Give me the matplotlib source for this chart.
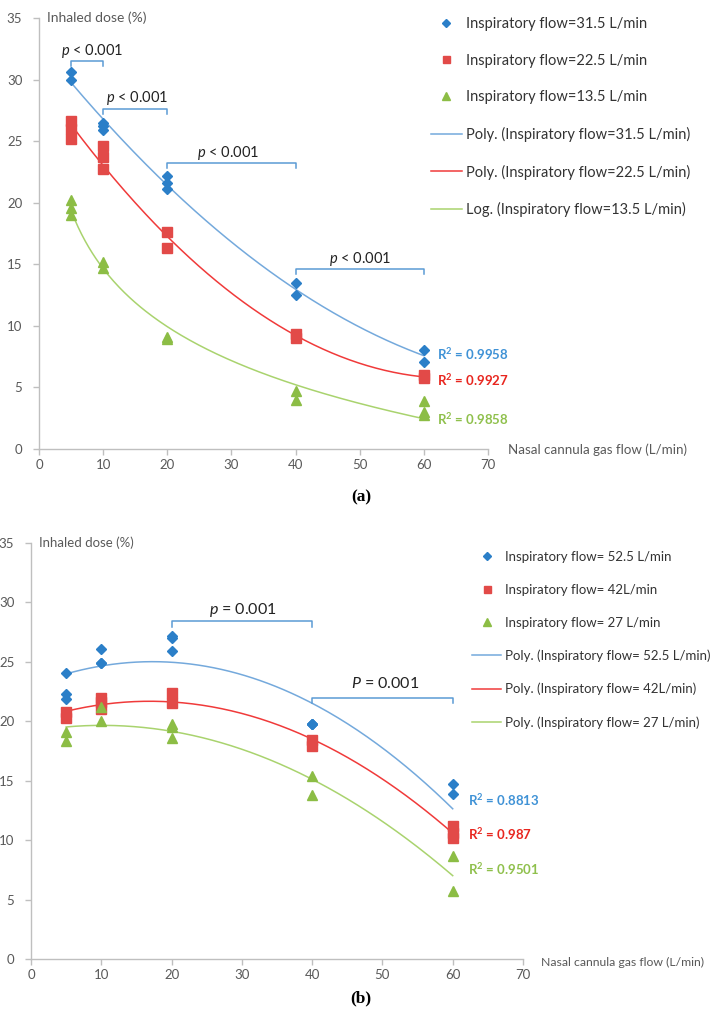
import numpy as np
import matplotlib
matplotlib.use("Agg")
import matplotlib.pyplot as plt

plt.rcParams['font.family'] = ['Lato', 'DejaVu Sans']
plt.rcParams['mathtext.fontset'] = 'custom'
plt.rcParams['mathtext.rm'] = 'Lato'
plt.rcParams['mathtext.it'] = 'Lato:italic'
plt.rcParams['mathtext.bf'] = 'Lato:bold'

# ---- panel (a) data ----
a_blue_x = [5, 5, 10, 10, 10, 20, 20, 20, 40, 40, 60, 60]
a_blue_y = [30.6, 30.0, 26.5, 26.2, 25.9, 22.2, 21.6, 21.1, 13.5, 12.5, 8.0, 7.1]
a_red_x = [5, 5, 5, 10, 10, 10, 20, 20, 40, 40, 60, 60]
a_red_y = [26.6, 26.0, 25.2, 24.6, 23.7, 22.7, 17.6, 16.3, 9.3, 9.0, 6.0, 5.8]
a_green_x = [5, 5, 5, 10, 10, 20, 20, 40, 40, 60, 60, 60]
a_green_y = [20.2, 19.6, 19.0, 15.2, 14.7, 9.1, 8.9, 4.7, 4.0, 3.9, 3.0, 2.8]
a_labels = ['Inspiratory flow=31.5 L/min', 'Inspiratory flow=22.5 L/min', 'Inspiratory flow=13.5 L/min']
a_fit_labels = ['Poly. (Inspiratory flow=31.5 L/min)', 'Poly. (Inspiratory flow=22.5 L/min)',
                'Log. (Inspiratory flow=13.5 L/min)']
a_r2 = ['0.9958', '0.9927', '0.9858']
a_brackets = [(5, 10, 31.5), (10, 20, 27.6), (20, 40, 23.2), (40, 60, 14.6)]
a_bracket_text = ['$p$ < 0.001'] * 4

# ---- panel (b) data ----
# n = 3 per flow; overlapping / hidden repeats included
b_blue_x = [5, 5, 5, 10, 10, 10, 20, 20, 20, 40, 40, 40, 60, 60, 60]
b_blue_y = [24.1, 22.3, 21.9, 26.1, 24.9, 24.9, 27.2, 27.0, 25.9, 19.8, 19.8, 19.8, 14.7, 13.9, 11.0]
b_red_x = [5, 5, 10, 10, 10, 20, 20, 40, 40, 60, 60, 60]
b_red_y = [20.8, 20.3, 22.0, 21.6, 21.0, 22.4, 21.5, 18.4, 17.9, 11.2, 10.6, 10.2]
b_green_x = [5, 5, 10, 10, 20, 20, 20, 40, 40, 60, 60]
b_green_y = [19.1, 18.3, 21.2, 20.0, 19.8, 19.5, 18.6, 15.4, 13.8, 8.7, 5.7]
b_labels = ['Inspiratory flow= 52.5 L/min', 'Inspiratory flow= 42L/min', 'Inspiratory flow= 27 L/min']
b_fit_labels = ['Poly. (Inspiratory flow= 52.5 L/min)', 'Poly. (Inspiratory flow= 42L/min)',
                'Poly. (Inspiratory flow= 27 L/min)']
b_r2 = ['0.8813', '0.987', '0.9501']
b_brackets = [(20, 40, 28.4), (40, 60, 22.0)]
b_bracket_text = ['$p$ = 0.001', '$P$ = 0.001']

marker_colors = ['#2b7fc8', '#e24a48', '#8cbd45']
line_colors = ['#74a9dc', '#f03a3a', '#a9d36e']
r2_colors = ['#3f92d6', '#e8261f', '#8fc04c']
markers = [('D', 5.6), ('s', 7.2), ('^', 7.6)]
bracket_color = '#5b9bd5'
axis_gray = '#bfbfbf'
tick_gray = '#595959'


def style_axes(ax):
    ax.set_xlim(0, 70)
    ax.set_ylim(0, 35)
    ax.set_xticks(range(0, 71, 10))
    ax.set_yticks(range(0, 36, 5))
    for s in ['top', 'right']:
        ax.spines[s].set_visible(False)
    for s in ['left', 'bottom']:
        ax.spines[s].set_color(axis_gray)
        ax.spines[s].set_linewidth(1.0)
    ax.tick_params(colors=axis_gray, labelcolor=tick_gray, labelsize=9.5, length=4, width=1)
    ax.tick_params(axis='x', pad=3)
    ax.tick_params(axis='y', pad=8)


def draw_panel(ax, xs, ys, fit_kinds, fit_labels, labels, r2, r2_pos, brackets, btext,
               bdrop, btext_pos, bfont):
    style_axes(ax)
    handles_m, handles_l = [], []
    for i in range(3):
        x = np.array(xs[i], dtype=float)
        y = np.array(ys[i], dtype=float)
        m, ms = markers[i]
        h, = ax.plot(x, y, ls='none', marker=m, ms=ms, color=marker_colors[i],
                     mec=marker_colors[i], label=labels[i], zorder=3)
        handles_m.append(h)
        xx = np.linspace(5, 60, 200)
        if fit_kinds[i] == 'log':
            c = np.polyfit(np.log(x), y, 1)
            yy = np.polyval(c, np.log(xx))
        else:
            c = np.polyfit(x, y, 2)
            yy = np.polyval(c, xx)
        hl, = ax.plot(xx, yy, color=line_colors[i], lw=1.1, label=fit_labels[i], zorder=2)
        handles_l.append(hl)
        ax.text(r2_pos[0], r2_pos[1][i], 'R$^\\mathbf{2}$ = ' + r2[i], color=r2_colors[i],
                fontsize=9.5, fontweight='bold', va='center', ha='left')
    for (x0, x1, yb), t, (tx, ty) in zip(brackets, btext, btext_pos):
        ax.plot([x0, x0, x1, x1], [yb - bdrop, yb, yb, yb - bdrop], color=bracket_color,
                lw=1.1, clip_on=False)
        ax.text(tx, ty, t, fontsize=bfont, ha='center', va='center', color='#222222')
    return handles_m + handles_l


fig = plt.figure(figsize=(7.22, 10.15), dpi=100)

# panel (a)
ax1 = fig.add_axes([39 / 722, 1 - 449 / 1015, 449 / 722, 431 / 1015])
h1 = draw_panel(ax1, [a_blue_x, a_red_x, a_green_x], [a_blue_y, a_red_y, a_green_y],
                ['poly', 'poly', 'log'], a_fit_labels, a_labels, a_r2,
                (62.0, [7.7, 5.6, 2.4]), a_brackets, a_bracket_text, 0.4,
                [(8.2, 32.3), (15.3, 28.5), (29.4, 24.0), (50.1, 15.4)], 10.5)
ax1.text(1.2, 35, 'Inhaled dose (%)', fontsize=10, color=tick_gray, va='center', ha='left')
fig.text(508 / 722, 1 - 450 / 1015, 'Nasal cannula gas flow (L/min)', fontsize=9.6,
         color=tick_gray, va='center', ha='left')
fig.legend(handles=h1, loc='upper left', bbox_to_anchor=(431 / 722, 1 - 17 / 1015),
           frameon=False, fontsize=10.5, labelspacing=1.55, handlelength=2.1,
           handletextpad=0.3, labelcolor='#333333', borderpad=0, borderaxespad=0,
           markerscale=0.7)
fig.text(361 / 722, 1 - 497 / 1015, '(a)', family='Liberation Serif', fontsize=12.5,
         fontweight='bold', ha='center', va='center')

# panel (b)
ax2 = fig.add_axes([31 / 722, 1 - 959 / 1015, 492 / 722, 416 / 1015])
h2 = draw_panel(ax2, [b_blue_x, b_red_x, b_green_x], [b_blue_y, b_red_y, b_green_y],
                ['poly', 'poly', 'poly'], b_fit_labels, b_labels, b_r2,
                (62.2, [13.4, 10.5, 7.6]), b_brackets, b_bracket_text, 0.45,
                [(30.2, 29.4), (50.4, 23.2)], 11.5)
ax2.text(1.1, 35, 'Inhaled dose (%)', fontsize=9.5, color=tick_gray, va='center', ha='left')
fig.text(541 / 722, 1 - 962 / 1015, 'Nasal cannula gas flow (L/min)', fontsize=8.8,
         color=tick_gray, va='center', ha='left')
fig.legend(handles=h2, loc='upper left', bbox_to_anchor=(472 / 722, 1 - 551 / 1015),
           frameon=False, fontsize=9.5, labelspacing=1.58, handlelength=2.2,
           handletextpad=0.3, labelcolor='#333333', borderpad=0, borderaxespad=0,
           markerscale=0.7)
fig.text(361 / 722, 1 - 998 / 1015, '(b)', family='Liberation Serif', fontsize=12.5,
         fontweight='bold', ha='center', va='center')

fig.savefig('out.png', dpi=100)
